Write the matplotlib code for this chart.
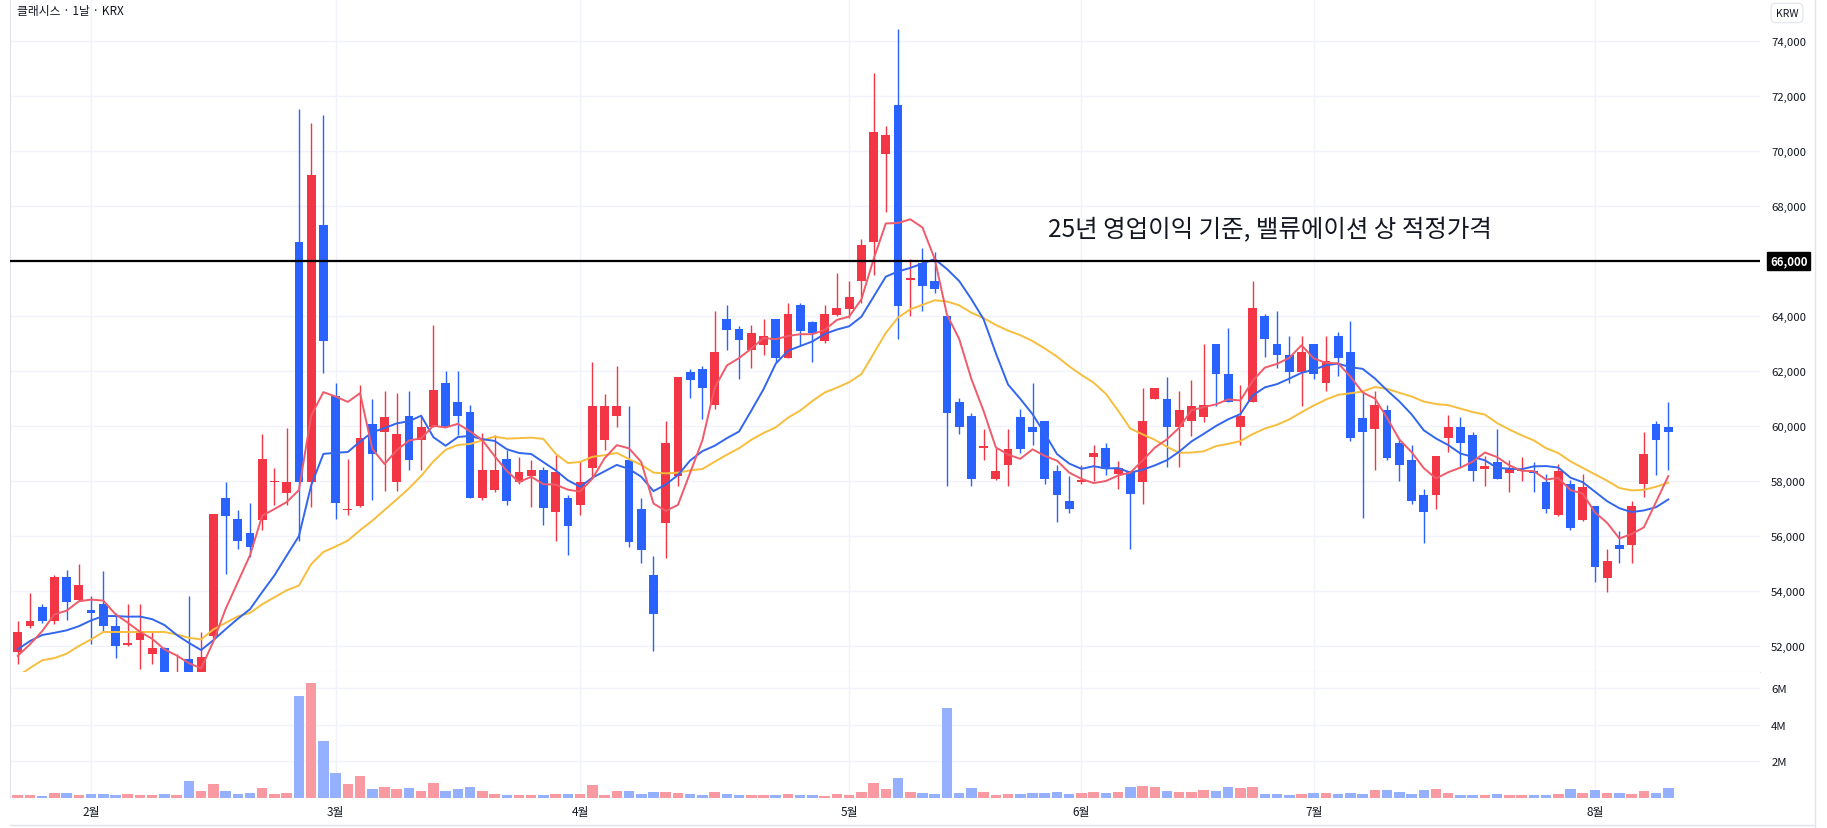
import matplotlib
matplotlib.use("Agg")
import matplotlib.pyplot as plt
from matplotlib.lines import Line2D
import numpy as np
import pandas as pd

plt.rcParams['font.family'] = ['Noto Sans CJK KR', 'DejaVu Sans']

# daily candles, 2025-01-20 .. 2025-08-11 (KRW)
opens = [51800, 52730, 53410, 52900, 54500, 53690, 53300, 53530, 52720, 52050,
         52220, 51700, 51940, 50600, 51540, 50700, 52360, 57400, 56620, 56110,
         56590, 57950, 57580, 66700, 57980, 67300, 61100, 56950, 57100, 60080,
         59790, 57980, 60370, 59490, 59980, 61580, 60880, 60500, 57400, 57680,
         58790, 57980, 58190, 58390, 56890, 57400, 57110, 58490, 59490, 60380,
         58770, 57000, 54600, 56460, 58180, 61970, 62060, 60780, 63900, 63510,
         62770, 62960, 63900, 62480, 64410, 63780, 63090, 64050, 64270, 65280,
         66700, 69890, 71670, 65300, 65910, 65280, 64010, 60890, 60380, 59200,
         58070, 58570, 60310, 59980, 60200, 58360, 57270, 57980, 58860, 59210,
         58270, 58360, 57960, 60980, 60980, 59950, 60200, 60310, 63000, 61880,
         59950, 60890, 63990, 63000, 62600, 61970, 63000, 61560, 63290, 62690,
         60290, 59890, 60580, 59400, 58770, 57490, 57490, 59570, 59980, 59690,
         58450, 58680, 58300, 58370, 58360, 57960, 56770, 57900, 56590, 57090,
         54470, 55680, 55680, 57900, 60070, 59980]
highs = [52900, 53930, 53530, 54600, 54780, 55000, 53810, 54720, 53210, 53530,
         53530, 52500, 51960, 51720, 53810, 52510, 56800, 57980, 56930, 57200,
         59700, 58490, 59920, 71520, 71000, 71300, 61580, 58790, 61490, 61000,
         61280, 61190, 61280, 60370, 63690, 61990, 61990, 60760, 59730, 59670,
         59130, 58890, 58770, 58520, 58950, 57500, 58710, 62310, 61180, 62190,
         60710, 57400, 55290, 60200, 61790, 62060, 62190, 64190, 64410, 63650,
         63690, 63900, 63900, 64460, 64460, 63810, 64390, 65580, 65260, 66800,
         72850, 70920, 74440, 66070, 66490, 66310, 64010, 61010, 60470, 59890,
         59210, 59890, 60620, 61560, 60200, 58570, 58180, 58570, 59300, 59400,
         58720, 58360, 61390, 61400, 61790, 61280, 61660, 63000, 63000, 63560,
         61480, 65260, 64070, 64190, 63290, 63290, 63000, 63290, 63420, 63810,
         61210, 61280, 60780, 59530, 59300, 57720, 58900, 60400, 60310, 59800,
         58900, 59890, 58770, 58860, 58680, 58270, 58630, 58030, 58270, 57090,
         55520, 56190, 57270, 59800, 60200, 60890]
lows = [51350, 52650, 52850, 52790, 52930, 53630, 52060, 52540, 51580, 52000,
        51150, 51330, 50500, 50400, 50500, 50500, 52300, 54620, 55540, 55230,
        56230, 57140, 57140, 55830, 57040, 61910, 56630, 56750, 57050, 57320,
        57620, 57620, 58400, 58400, 59950, 59950, 59670, 57380, 57320, 57600,
        57140, 57880, 57040, 56410, 55830, 55320, 56750, 58130, 59130, 59950,
        55610, 55010, 51820, 55190, 57810, 61030, 60240, 60610, 62780, 61700,
        62100, 62600, 62330, 62480, 62960, 62330, 63020, 63990, 63920, 64460,
        65490, 67790, 63180, 64010, 64190, 64830, 57810, 59710, 57810, 58770,
        58050, 57810, 59030, 59300, 57900, 56510, 56820, 57900, 58000, 58210,
        57720, 55520, 57180, 60970, 58500, 58500, 59620, 60130, 60710, 60880,
        59300, 60880, 62510, 62100, 61570, 60710, 61700, 61280, 61830, 59440,
        56640, 58390, 58770, 58000, 57180, 55740, 57000, 59040, 58500, 58000,
        57810, 58070, 57600, 58000, 57600, 56820, 56740, 56220, 56550, 54330,
        53980, 55010, 55010, 57420, 58210, 58390]
closes = [52500, 52900, 52910, 54500, 53610, 54210, 53210, 52730, 52000, 52100,
          52540, 51940, 50800, 50900, 50700, 51600, 56800, 56710, 55810, 55590,
          58790, 58000, 57980, 57980, 69120, 63080, 57200, 57000, 59580, 59000,
          60310, 59700, 58770, 59980, 61300, 59980, 60370, 57400, 58390, 58390,
          57290, 58320, 58390, 57020, 58320, 56370, 57980, 60730, 60730, 60710,
          55790, 55500, 53170, 59400, 61790, 61660, 61370, 62690, 63490, 63140,
          63380, 63290, 62480, 64070, 63470, 63380, 64070, 64300, 64680, 66580,
          70680, 70590, 64370, 65370, 65080, 64970, 60470, 59950, 58070, 59260,
          58360, 59170, 59170, 59800, 58070, 57490, 57000, 58030, 59030, 58450,
          58480, 57540, 60200, 61390, 59980, 60580, 60710, 60780, 61880, 60890,
          60380, 64280, 63180, 62570, 61970, 62690, 61880, 62370, 62480, 59570,
          59800, 60780, 58840, 58570, 57270, 56880, 58900, 59980, 59400, 58360,
          58540, 58070, 58480, 58410, 58300, 57000, 58360, 56280, 57780, 54870,
          55100, 55520, 57090, 58990, 59500, 59800]
# volume in millions of shares
volumes = [0.17, 0.17, 0.11, 0.28, 0.28, 0.17, 0.20, 0.20, 0.17, 0.22,
           0.17, 0.17, 0.22, 0.17, 0.95, 0.39, 0.78, 0.39, 0.22, 0.28,
           0.56, 0.22, 0.28, 5.60, 6.28, 3.14, 1.35, 0.78, 1.23, 0.50,
           0.62, 0.50, 0.56, 0.39, 0.84, 0.39, 0.50, 0.62, 0.39, 0.22,
           0.17, 0.17, 0.17, 0.17, 0.22, 0.22, 0.22, 0.73, 0.17, 0.39,
           0.39, 0.22, 0.34, 0.34, 0.28, 0.22, 0.17, 0.34, 0.22, 0.17,
           0.17, 0.17, 0.17, 0.22, 0.17, 0.17, 0.11, 0.22, 0.17, 0.34,
           0.84, 0.50, 1.07, 0.34, 0.28, 0.20, 4.93, 0.28, 0.56, 0.34,
           0.17, 0.22, 0.22, 0.28, 0.28, 0.34, 0.22, 0.28, 0.34, 0.28,
           0.34, 0.62, 0.67, 0.62, 0.37, 0.34, 0.34, 0.45, 0.39, 0.62,
           0.56, 0.62, 0.22, 0.22, 0.17, 0.22, 0.28, 0.28, 0.22, 0.28,
           0.22, 0.45, 0.45, 0.34, 0.22, 0.45, 0.50, 0.28, 0.17, 0.17,
           0.17, 0.22, 0.17, 0.17, 0.17, 0.17, 0.22, 0.50, 0.28, 0.45,
           0.28, 0.28, 0.22, 0.39, 0.28, 0.56]

# moving averages before the window fills (history before 1/20 is off-screen)
ma5_head = [51640, 52060, 52540, 53150]
ma10_head = [51880, 52180, 52400, 52480, 52570, 52720, 52930, 53090, 53090]
ma20_head = [50900, 51200, 51480, 51560, 51720, 52000, 52240, 52510, 52510, 52510,
             52510, 52510, 52510, 52420, 52300, 52240, 52600, 52840, 53080]

# first trading day of each month (bar index)
month_idx = [6, 26, 46, 68, 87, 106, 129]
month_labels = ['2월', '3월', '4월', '5월', '6월', '7월', '8월']

price_ticks = list(range(52000, 74001, 2000))
vol_ticks = [2, 4, 6]
fair_price = 66000
note = '25년 영업이익 기준, 밸류에이션 상 적정가격'
title = '클래시스 · 1날 · KRX'

UP = '#F23645'
DOWN = '#2962FF'
GRID = '#F0F3FA'
TEXT = '#131722'


def sma(values, n, head):
  s = pd.Series(values, dtype=float).rolling(n).mean().to_numpy()
  s[:len(head)] = head
  return s


def plot():
  W, H = 1827, 829
  fig = plt.figure(figsize=(W / 100, H / 100), dpi=100)
  fig.patch.set_facecolor('white')

  ax = fig.add_axes([10 / W, 1 - 673 / H, 1750 / W, 673 / H])
  axv = fig.add_axes([10 / W, 1 - 799 / H, 1750 / W, 126 / H], sharex=ax)

  o = np.array(opens, dtype=float)
  h = np.array(highs, dtype=float)
  l = np.array(lows, dtype=float)
  c = np.array(closes, dtype=float)
  x = np.arange(len(c))
  cols = np.where(c >= o, UP, DOWN)

  # candles
  ax.vlines(x, l, h, colors=cols, lw=1.0, zorder=3)
  ax.bar(x, np.maximum(np.abs(c - o), 40), bottom=np.minimum(o, c), width=0.72,
         color=cols, linewidth=0, zorder=4)

  # moving averages
  ax.plot(x, sma(closes, 20, ma20_head), color='#F7BE3D', lw=1.4, zorder=5)
  ax.plot(x, sma(closes, 10, ma10_head), color='#3366EE', lw=1.4, zorder=5)
  ax.plot(x, sma(closes, 5, ma5_head), color='#EF5B69', lw=1.4, zorder=5)

  ax.axhline(fair_price, color='black', lw=1.6, zorder=6)
  ax.text(84.3, 67150, note, fontsize=17.6, color=TEXT, ha='left', va='center', zorder=7)

  ax.set_xlim(-0.63, 142.5)
  ax.set_ylim(51055, 75527)
  ax.set_yticks(price_ticks)
  ax.set_yticklabels(['{:,}'.format(p) for p in price_ticks])
  ax.set_xticks(month_idx)
  ax.grid(True, color=GRID, lw=1.0, zorder=0)
  ax.yaxis.tick_right()
  ax.tick_params(axis='y', length=0, pad=8, labelsize=8.2, labelcolor=TEXT)
  ax.tick_params(axis='x', length=0, labelbottom=False)
  for s in ['top', 'right']:
    ax.spines[s].set_visible(False)
  ax.spines['left'].set_color('#E0E3EB')
  ax.spines['bottom'].set_color('#E0E3EB')

  # price label for the horizontal line
  ax.text(1.0 + 10 / 1750, fair_price, '{:,}'.format(fair_price), transform=ax.get_yaxis_transform(),
          fontsize=8.2, color='white', fontweight='bold', ha='left', va='center', zorder=8,
          bbox=dict(boxstyle='square,pad=0.25', fc='black', ec='black'), clip_on=False)

  # volume
  vcols = np.where(c >= o, '#F99AA2', '#94B0FF')
  axv.bar(x, volumes, width=0.86, color=vcols, linewidth=0, zorder=3)
  axv.set_ylim(0, 6.9)
  axv.set_yticks(vol_ticks)
  axv.set_yticklabels(['{}M'.format(v) for v in vol_ticks])
  axv.set_xticks(month_idx)
  axv.set_xticklabels(month_labels)
  axv.grid(True, color=GRID, lw=1.0, zorder=0)
  axv.yaxis.tick_right()
  axv.tick_params(axis='y', length=0, pad=8, labelsize=8.2, labelcolor=TEXT)
  axv.tick_params(axis='x', length=0, pad=5, labelsize=8.5, labelcolor=TEXT)
  for s in ['top', 'right', 'bottom']:
    axv.spines[s].set_visible(False)
  axv.spines['left'].set_color('#E0E3EB')

  # frame bits around the price scale
  fig.add_artist(Line2D([1815 / W, 1815 / W], [0, 1], color='#E0E3EB', lw=1.0))
  fig.add_artist(Line2D([10 / W, 1815 / W], [3 / H, 3 / H], color='#E0E3EB', lw=1.0))

  fig.text(17 / W, 1 - 11 / H, title, fontsize=8.5, color=TEXT, ha='left', va='center')
  fig.text(1787 / W, 1 - 14 / H, 'KRW', fontsize=7.5, color=TEXT, ha='center', va='center',
           bbox=dict(boxstyle='round,pad=0.45', fc='white', ec='#E0E3EB', lw=0.8))

  plt.savefig('out.png', dpi=100, facecolor='white')


plot()
